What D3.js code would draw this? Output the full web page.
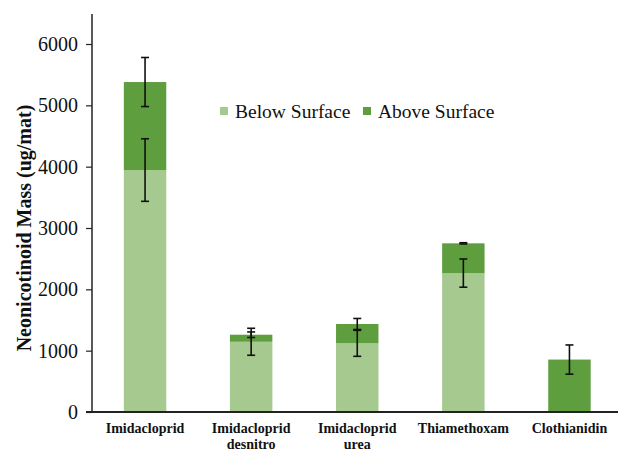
<!DOCTYPE html>
<html>
<head>
<meta charset="utf-8">
<script src="https://cdn.jsdelivr.net/npm/d3@7"></script>
<style>
  body { margin: 0; background: #fff; }
  svg { display: block; }
</style>
</head>
<body>
<script>
// data
const categories = ["Imidacloprid", "Imidacloprid desnitro", "Imidacloprid urea", "Thiamethoxam", "Clothianidin"];
const labelLines = [["Imidacloprid"], ["Imidacloprid", "desnitro"], ["Imidacloprid", "urea"], ["Thiamethoxam"], ["Clothianidin"]];
const below = [3945, 1145, 1120, 2265, 0];
const above = [1435, 115, 315, 485, 855];
const belowErr = [510, 220, 212, 230, 0];
const aboveErr = [400, 45, 90, 10, 238];
const yTicks = [0, 1000, 2000, 3000, 4000, 5000, 6000];
const seriesNames = ["Below Surface", "Above Surface"];
const colors = ["#a5c98f", "#5f9e3f"];

const width = 622, height = 452;
const x0 = 92, x1 = 622.5, yBottom = 412, yTop = 44;
const serif = "'Liberation Serif', 'Times New Roman', serif";

const svg = d3.select("body").append("svg")
  .attr("width", width)
  .attr("height", height);

const x = d3.scaleBand()
  .domain(categories)
  .range([x0, x1])
  .paddingInner(0.6)
  .paddingOuter(0.3);

const y = d3.scaleLinear()
  .domain([0, 6000])
  .range([yBottom, yTop]);

// stacked bars
const rows = categories.map((c, i) => ({ cat: c, below: below[i], above: above[i] }));
const stack = d3.stack().keys(["below", "above"])(rows);

svg.append("g").selectAll("g")
  .data(stack)
  .join("g")
  .attr("fill", (d, i) => colors[i])
  .selectAll("rect")
  .data(d => d)
  .join("rect")
  .attr("x", d => x(d.data.cat))
  .attr("width", x.bandwidth())
  .attr("y", d => y(d[1]))
  .attr("height", d => y(d[0]) - y(d[1]));

// error bars
const errs = [];
rows.forEach((r, i) => {
  if (belowErr[i] > 0) errs.push({ cat: r.cat, v: r.below, e: belowErr[i] });
  errs.push({ cat: r.cat, v: r.below + r.above, e: aboveErr[i] });
});
const eg = svg.append("g").attr("stroke", "#111").attr("stroke-width", 1.6);
errs.forEach(d => {
  const cx = x(d.cat) + x.bandwidth() / 2;
  eg.append("line").attr("x1", cx).attr("x2", cx).attr("y1", y(d.v + d.e)).attr("y2", y(d.v - d.e));
  [d.v + d.e, d.v - d.e].forEach(v => {
    eg.append("line").attr("x1", cx - 4).attr("x2", cx + 4).attr("y1", y(v)).attr("y2", y(v));
  });
});

// y axis
const yAxis = svg.append("g")
  .attr("transform", `translate(${x0},0)`)
  .call(d3.axisLeft(y).tickValues(yTicks).tickFormat(d3.format("d"))
    .tickSize(6).tickSizeOuter(0).tickPadding(8));
yAxis.select(".domain").remove();
yAxis.append("line").attr("x1", 0).attr("x2", 0).attr("y1", 14).attr("y2", yBottom)
  .attr("stroke", "#222").attr("stroke-width", 1.5);
yAxis.selectAll(".tick line").attr("stroke", "#222").attr("stroke-width", 1.2);
yAxis.selectAll(".tick text")
  .attr("fill", "#111")
  .style("font-family", serif)
  .style("font-size", "20px");

// x axis line
svg.append("line").attr("x1", x0 - 6).attr("x2", 618).attr("y1", yBottom).attr("y2", yBottom)
  .attr("stroke", "#222").attr("stroke-width", 1.8);

// x labels
const xl = svg.append("g")
  .style("font-family", serif)
  .style("font-size", "14px")
  .style("font-weight", "bold")
  .attr("fill", "#111")
  .attr("text-anchor", "middle");
categories.forEach((c, i) => {
  const cx = x(c) + x.bandwidth() / 2;
  const t = xl.append("text").attr("x", cx).attr("y", 433);
  labelLines[i].forEach((ln, j) => {
    t.append("tspan").attr("x", cx).attr("dy", j === 0 ? 0 : 16).text(ln);
  });
});

// y title
svg.append("text")
  .attr("transform", `translate(31,${(yBottom + yTop) / 2}) rotate(-90)`)
  .attr("text-anchor", "middle")
  .style("font-family", serif)
  .style("font-size", "20px")
  .style("font-weight", "bold")
  .attr("fill", "#111")
  .text("Neonicotinoid Mass (ug/mat)");

// legend
const legendX = [220, 363];
const lg = svg.append("g")
  .style("font-family", serif)
  .style("font-size", "19.5px")
  .attr("fill", "#111");
seriesNames.forEach((s, i) => {
  lg.append("rect").attr("x", legendX[i]).attr("y", 107).attr("width", 8).attr("height", 8).attr("fill", colors[i]);
  lg.append("text").attr("x", legendX[i] + 15).attr("y", 118).text(s);
});
</script>
</body>
</html>
